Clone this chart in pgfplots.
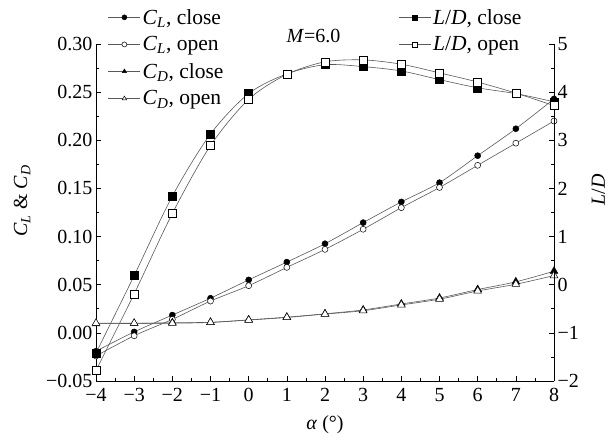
\documentclass[border=0pt]{standalone}
\usepackage{pgfplots}
\pgfplotsset{compat=1.18}
\usepackage{fontspec}
\setmainfont{Liberation Serif}

\newcommand{\CL}{\textit{C}\textsubscript{\textit{L}}}
\newcommand{\CD}{\textit{C}\textsubscript{\textit{D}}}
\newcommand{\LD}{\textit{L}/\textit{D}}

\pgfplotsset{
  frame/.style={
    scale only axis, width=458pt, height=337pt,
    xmin=-4, xmax=8, clip=false,
    tick align=inside,
    major tick length=5pt, minor tick length=3pt,
    every tick/.append style={black, line width=0.6pt},
    axis line style={-, black, line width=0.7pt},
    tick label style={font=\fontsize{20}{24}\selectfont},
    label style={font=\fontsize{20}{24}\selectfont},
    legend style={draw=none, fill=none, font=\fontsize{21.5}{25}\selectfont,
      row sep=7pt, inner sep=0pt, anchor=north west},
    legend cell align=left,
    legend image post style={mark size=2.5pt},
  },
  ser/.style={black!65, line width=0.6pt, smooth},
  fillmk/.style={mark options={solid, draw=black, fill=black, line width=0.5pt}},
  openmk/.style={mark options={solid, draw=black, fill=white, line width=0.5pt}},
}

\begin{document}
\begin{tikzpicture}
% lift and drag coefficients (left axis)
\begin{axis}[frame,
  axis x line*=bottom, axis y line*=left,
  ymin=-0.05, ymax=0.30,
  xtick={-4,...,8}, xticklabels={−4,−3,−2,−1,0,1,2,3,4,5,6,7,8},
  xticklabel style={yshift=-4pt},
  minor x tick num=1,
  ytick={-0.05,0,0.05,0.10,0.15,0.20,0.25,0.30},
  yticklabels={−0.05,0.00,0.05,0.10,0.15,0.20,0.25,0.30},
  minor y tick num=1,
  xlabel={\textit{α} (°)},
  xlabel style={at={(ticklabel cs:0.5,7pt)}},
  ylabel={\CL\ \& \CD},
  ylabel style={at={(ticklabel cs:0.534,9pt)}},
  legend image code/.code={\draw[mark repeat=2,mark phase=2,#1] plot coordinates {(0pt,0pt) (16pt,0pt) (32pt,0pt)};},
  legend style={at={(rel axis cs:0.026,1.11)}},
]
\addplot[ser, fillmk, mark=*, mark size=3pt] coordinates {
  (-4,-0.019) (-3,0.001) (-2,0.0185) (-1,0.036) (0,0.055) (1,0.0735) (2,0.0926)
  (3,0.1145) (4,0.136) (5,0.156) (6,0.184) (7,0.212) (8,0.243)};
\addlegendentry{\CL, close}
\addplot[ser, openmk, mark=*, mark size=3pt] coordinates {
  (-4,-0.024) (-3,-0.003) (-2,0.014) (-1,0.033) (0,0.049) (1,0.068) (2,0.0867)
  (3,0.1076) (4,0.130) (5,0.151) (6,0.174) (7,0.197) (8,0.220)};
\addlegendentry{\CL, open}
\addplot[ser, fillmk, mark=triangle*, mark size=4.5pt] coordinates {
  (-4,0.0095) (-3,0.0098) (-2,0.0105) (-1,0.011) (0,0.0135) (1,0.0163) (2,0.0198)
  (3,0.0238) (4,0.0300) (5,0.0362) (6,0.0450) (7,0.0530) (8,0.0640)};
\addlegendentry{\CD, close}
\addplot[ser, openmk, mark=triangle*, mark size=4.5pt] coordinates {
  (-4,0.010) (-3,0.010) (-2,0.0100) (-1,0.0108) (0,0.0133) (1,0.016) (2,0.0195)
  (3,0.0230) (4,0.0290) (5,0.0350) (6,0.0435) (7,0.0505) (8,0.0595)};
\addlegendentry{\CD, open}
\node[font=\fontsize{20}{24}\selectfont] at (rel axis cs:0.475,1.025) {\textit{M}=6.0};
\end{axis}
% lift-to-drag ratio (right axis)
\begin{axis}[frame,
  axis x line=none, axis y line*=right,
  ymin=-2, ymax=5,
  ytick={-2,...,5}, yticklabels={−2,−1,0,1,2,3,4,5},
  minor y tick num=1,
  ylabel={\LD},
  ylabel style={at={(ticklabel cs:0.567,6pt)}},
  legend image code/.code={\draw[mark repeat=2,mark phase=2,#1] plot coordinates {(0pt,0pt) (16pt,0pt) (32pt,0pt)};},
  legend style={at={(rel axis cs:0.66,1.11)}},
]
\addplot[ser, fillmk, mark=square*, mark size=4pt] coordinates {
  (-4,-1.42) (-3,0.19) (-2,1.84) (-1,3.13) (0,3.97) (1,4.38) (2,4.57)
  (3,4.53) (4,4.44) (5,4.26) (6,4.09) (7,3.97) (8,3.80)};
\addlegendentry{\LD, close}
\addplot[ser, openmk, mark=square*, mark size=4pt] coordinates {
  (-4,-1.78) (-3,-0.19) (-2,1.48) (-1,2.89) (0,3.85) (1,4.37) (2,4.63)
  (3,4.67) (4,4.58) (5,4.40) (6,4.21) (7,3.98) (8,3.72)};
\addlegendentry{\LD, open}
\end{axis}
\pgfresetboundingbox
\path[use as bounding box] (-96pt,-56pt) rectangle (515pt,381pt);
\end{tikzpicture}
\end{document}
